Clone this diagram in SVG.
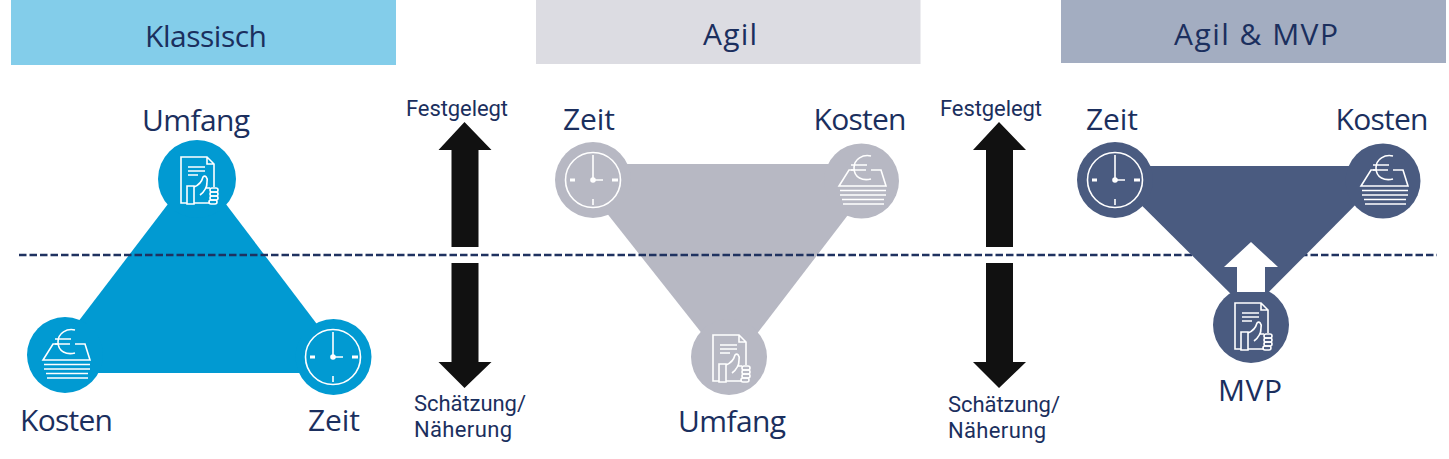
<svg xmlns="http://www.w3.org/2000/svg" width="1449" height="459" viewBox="0 0 1449 459">
<style>
text{font-family:"Open Sans","Noto Sans","Liberation Sans",sans-serif;fill:#1b2f5e}
.m{text-anchor:middle}
.l{font-size:30px}
.h{font-size:30px}
text.s{font-family:Roboto,"Open Sans",sans-serif;font-size:22px}
.i{fill:none;stroke:#fff;stroke-width:1.6}
.blue{fill:#019ad2}
.grey{fill:#b7b8c3}
.dark{fill:#4a5b80}
.arrow{fill:#111}
</style>
<defs>
<g id="clock" class="i">
<circle r="27.5"/>
<path d="M0,-25V0H10M0,19V25"/>
<path d="M-23,0H-18M19,0H25" stroke-width="3"/>
<circle r="2" fill="#fff"/>
</g>
<g id="euro" class="i">
<path d="M10,-25C2,-27-7,-22-7,-13C-7,-3 2,0 10,-2M-10,-16H6M-10,-11H5"/>
<path d="M-6,-11H-12L-22,5H25L20,-11H10"/>
<path d="M-21,9.500H25M-21,14H25M-19,18.500H23M-18,23H23"/>
</g>
<g id="doc" class="i">
<path d="M-10,24H-16V-22H10L17,-15V8M10,-22V-15H17"/>
<path d="M-9,-12H8M-9,-8H8M-9,-4H1"/>
<path d="M-10,7H-3V25H-10Z"/>
<path d="M-3,8C2,6 5,2 6,-2C8,-4 11,-2 10,3C10,5 10,7 9,9H13M10,3C10,8 7,13 3,16M-3,24H13"/>
<rect x="13" y="9" width="8" height="4" rx="2"/>
<rect x="13" y="13" width="8" height="4" rx="2"/>
<rect x="13" y="17" width="8" height="4" rx="2"/>
<rect x="12" y="21" width="8" height="4" rx="2"/>
</g>
<path id="scale" class="arrow" d="M0,0L27,28H14V125H-13V28H-26ZM14,141V240H27L0,266L-26,240H-13V141Z"/>
</defs>

<g id="header-klassisch"><rect x="11" y="0" width="385" height="65" fill="#83cdea"/><text class="h m" x="206" y="46.500" textLength="122">Klassisch</text></g>
<g id="header-agil"><rect x="536" y="0" width="384.500" height="64" fill="#dcdce2"/><text class="h m" x="730" y="45" textLength="54">Agil</text></g>
<g id="header-mvp"><rect x="1061" y="0" width="385" height="63" fill="#a3adc1"/><text class="h m" x="1256" y="45" textLength="164">Agil &amp; MVP</text></g>

<g id="triangle-klassisch" class="blue">
<path d="M197,166L354,373H39Z"/>
<circle cx="197" cy="179" r="39"/><circle cx="65" cy="355" r="38"/><circle cx="333.500" cy="357" r="38"/>
</g>
<g id="triangle-agil" class="grey">
<path d="M568,164H887L730,369Z"/>
<circle cx="593" cy="180" r="38"/><circle cx="861.500" cy="181" r="37.500"/><circle cx="729" cy="357" r="38"/>
</g>

<g id="connectors">
<path d="M19,255H1437" fill="none" stroke="#1f3260" stroke-width="2.500" stroke-dasharray="7.500 3"/>
<use href="#scale" x="464.500" y="122"/>
<use href="#scale" x="999" y="122"/>
</g>

<g id="triangle-mvp" class="dark">
<path d="M1102,166H1394L1249,312Z"/>
<circle cx="1115" cy="180" r="38"/><circle cx="1383" cy="181" r="37.500"/><circle cx="1251" cy="325" r="38"/>
<path d="M1251,242L1278,267H1265V292H1237V267H1224Z" fill="#fff"/>
</g>

<g id="node-umfang-klassisch"><use href="#doc" x="197" y="179"/><text class="l m" x="196" y="131" textLength="108">Umfang</text></g>
<g id="node-kosten-klassisch"><use href="#euro" x="65" y="355"/><text class="l m" x="66.500" y="431" textLength="93">Kosten</text></g>
<g id="node-zeit-klassisch"><use href="#clock" x="333" y="357"/><text class="l m" x="334" y="431" textLength="52">Zeit</text></g>

<g id="node-zeit-agil"><use href="#clock" x="593" y="180"/><text class="l m" x="589" y="130" textLength="52">Zeit</text></g>
<g id="node-kosten-agil"><use href="#euro" x="861" y="181"/><text class="l m" x="860" y="130" textLength="93">Kosten</text></g>
<g id="node-umfang-agil"><use href="#doc" x="729" y="357"/><text class="l m" x="732" y="432" textLength="108">Umfang</text></g>

<g id="node-zeit-mvp"><use href="#clock" x="1115" y="180"/><text class="l m" x="1112" y="130" textLength="52">Zeit</text></g>
<g id="node-kosten-mvp"><use href="#euro" x="1383" y="181"/><text class="l m" x="1382" y="130" textLength="93">Kosten</text></g>
<g id="node-mvp"><use href="#doc" x="1251" y="325"/><text class="l m" x="1250" y="401" textLength="64">MVP</text></g>

<g id="label-left">
<text class="s m" x="457" y="116" textLength="102">Festgelegt</text>
<text class="s" x="414" y="411" textLength="112">Schätzung/</text>
<text class="s" x="414" y="437" textLength="98">Näherung</text>
</g>
<g id="label-right">
<text class="s m" x="991" y="116" textLength="102">Festgelegt</text>
<text class="s" x="948" y="412" textLength="112">Schätzung/</text>
<text class="s" x="948" y="438" textLength="98">Näherung</text>
</g>
</svg>
